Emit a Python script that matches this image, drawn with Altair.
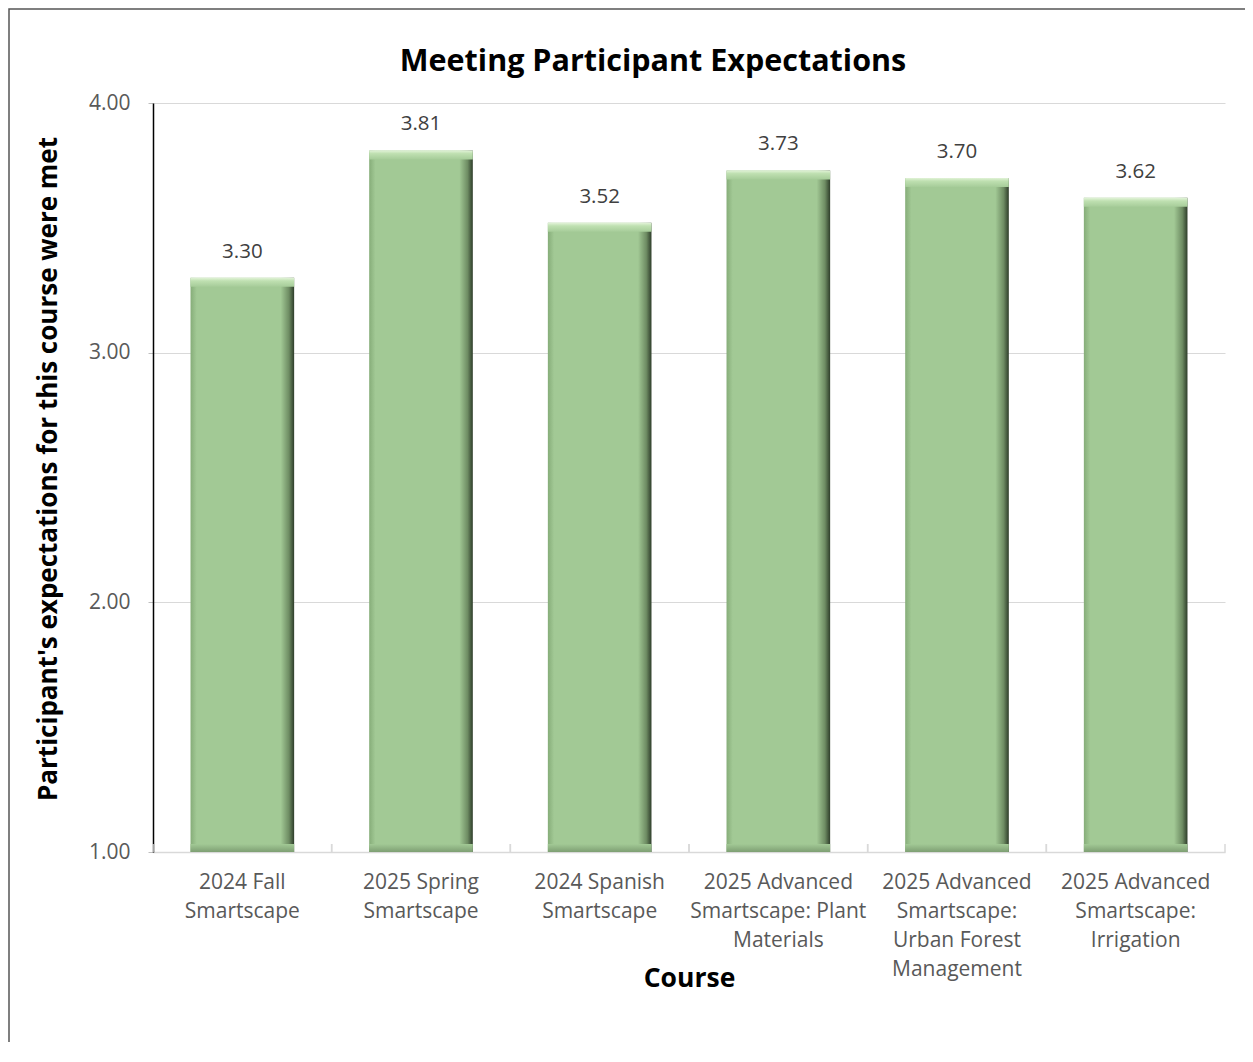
import altair as alt
import pandas as pd

# ---- data ----
label_lines = [
    ["2024 Fall", "Smartscape"],
    ["2025 Spring", "Smartscape"],
    ["2024 Spanish", "Smartscape"],
    ["2025 Advanced", "Smartscape: Plant", "Materials"],
    ["2025 Advanced", "Smartscape:", "Urban Forest", "Management"],
    ["2025 Advanced", "Smartscape:", "Irrigation"],
]
scores = [3.30, 3.81, 3.52, 3.73, 3.70, 3.62]
y_ticks = [1, 2, 3, 4]

courses = ["|".join(l) for l in label_lines]
df = pd.DataFrame({"course": courses, "score": scores})

FONT = "Open Sans"
W, H = 1072, 749

xenc = alt.X(
    "course:N",
    sort=courses,
    scale=alt.Scale(paddingInner=0, paddingOuter=0),
    axis=alt.Axis(
        title="Course",
        titleFont=FONT, titleFontSize=26.5, titleFontWeight="bold", titleColor="#000000",
        titleY=126, titleBaseline="middle",
        labelExpr="split(datum.label, '|')",
        labelFont=FONT, labelFontSize=21, labelColor="#595959",
        labelLineHeight=29.3, labelPadding=19, labelAngle=0,
        ticks=False, domainColor="#d9d9d9", domainWidth=1.5,
    ),
)
yenc = alt.Y(
    "score:Q",
    scale=alt.Scale(domain=[1, 4], nice=False, zero=False),
    axis=alt.Axis(
        title="Participant's expectations for this course were met",
        titleFont=FONT, titleFontSize=26, titleFontWeight="bold", titleColor="#000000",
        titleX=-105, titleY=H / 2 - 9, titleAngle=270, titleAlign="center", titleBaseline="middle",
        values=y_ticks, format=".2f",
        labelFont=FONT, labelFontSize=21, labelColor="#595959", labelPadding=18,
        tickSize=5, tickColor="#bfbfbf",
        domainColor="#000000", domainWidth=1.5,
        grid=True, gridColor="#d9d9d9", gridWidth=1.2,
    ),
)

main_grad = alt.Gradient(
    gradient="linear", x1=0, x2=1, y1=0, y2=0,
    stops=[
        alt.GradientStop(color="#86ad79", offset=0),
        alt.GradientStop(color="#a2c995", offset=0.06),
        alt.GradientStop(color="#a2c995", offset=0.87),
        alt.GradientStop(color="#6e8c63", offset=0.95),
        alt.GradientStop(color="#2e3d2a", offset=1),
    ],
)
cap_grad = alt.Gradient(
    gradient="linear", x1=0, x2=0, y1=0, y2=1,
    stops=[
        alt.GradientStop(color="#e2f3d8", offset=0),
        alt.GradientStop(color="#bfe0b1", offset=0.35),
        alt.GradientStop(color="#a6cc99", offset=1),
    ],
)
base_grad = alt.Gradient(
    gradient="linear", x1=0, x2=0, y1=0, y2=1,
    stops=[
        alt.GradientStop(color="#a2c995", offset=0),
        alt.GradientStop(color="#7e9f73", offset=1),
    ],
)

base = alt.Chart(df)
bw = alt.RelativeBandSize(0.58)

bars = base.mark_bar(color=main_grad, width=bw).encode(
    x=xenc, y=yenc, y2=alt.datum(1)
)
caps = base.mark_bar(color=cap_grad, width=bw, y2Offset=9).encode(
    x=alt.X("course:N", sort=courses), y=alt.Y("score:Q"), y2=alt.Y2("score:Q")
)
bottoms = base.mark_bar(color=base_grad, width=bw, yOffset=-8).encode(
    x=alt.X("course:N", sort=courses), y=alt.datum(1), y2=alt.datum(1)
)
labels = base.mark_text(dy=-26, fontSize=20.5, font=FONT, color="#404040", baseline="middle").encode(
    x=alt.X("course:N", sort=courses), y=alt.Y("score:Q"),
    text=alt.Text("score:Q", format=".2f"),
)
ticks_l = base.mark_rule(color="#d9d9d9", strokeWidth=1.5).encode(
    x=alt.X("course:N", sort=courses, bandPosition=0), y=alt.value(H - 8), y2=alt.value(H)
)
ticks_r = base.mark_rule(color="#d9d9d9", strokeWidth=1.5).encode(
    x=alt.X("course:N", sort=courses, bandPosition=1), y=alt.value(H - 8), y2=alt.value(H)
)
border = alt.Chart(pd.DataFrame({"k": [0]})).mark_rect(
    fill=None, stroke="#555555", strokeWidth=1.5
).encode(
    x=alt.value(-144), x2=alt.value(W + 60), y=alt.value(-94), y2=alt.value(H + 260)
)

chart = alt.layer(bars, caps, bottoms, ticks_l, ticks_r, labels, border).properties(
    width=W, height=H,
    title=alt.TitleParams(
        "Meeting Participant Expectations", font=FONT, fontSize=30.5, fontWeight="bold",
        color="#000000", anchor="middle", dx=-36, dy=121, offset=28, baseline="alphabetic",
    ),
    autosize=alt.AutoSizeParams(type="none"),
    padding={"left": 145, "top": 95, "right": 20, "bottom": 190},
).configure_view(stroke=None)

chart.save("out.html", embed_options={"renderer": "svg", "actions": False})
